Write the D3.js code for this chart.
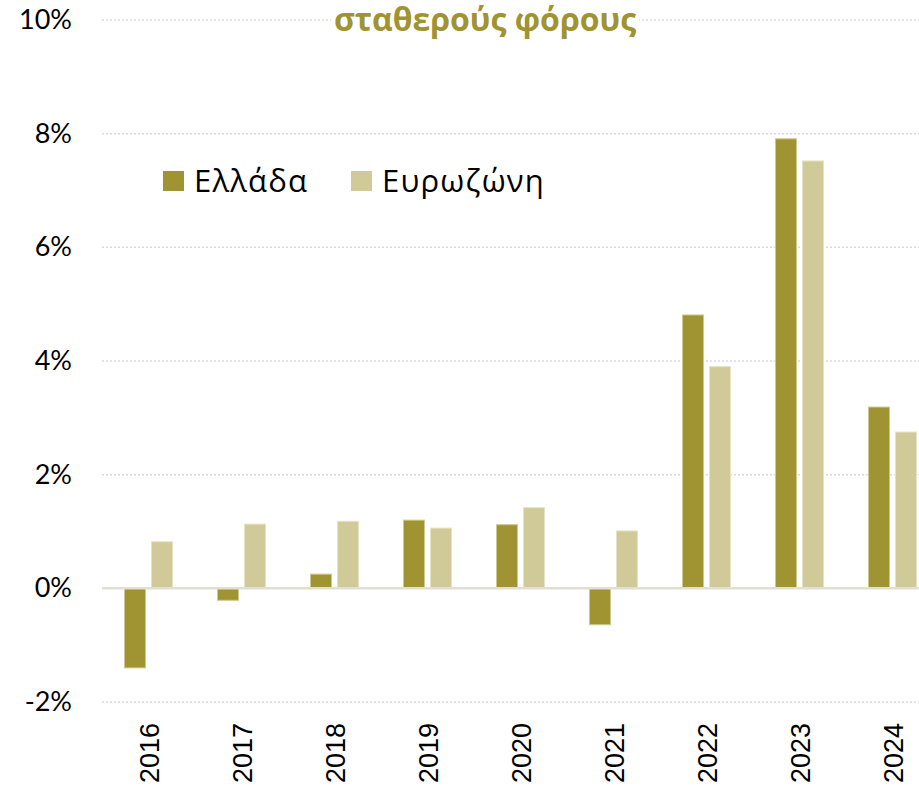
<!DOCTYPE html>
<html><head><meta charset="utf-8">
<script src="https://cdn.jsdelivr.net/npm/d3@7"></script>
<style>html,body{margin:0;padding:0;background:#fff;}</style>
</head><body>
<script>
const years = ["2016","2017","2018","2019","2020","2021","2022","2023","2024"];
const seriesNames = ["Ελλάδα","Ευρωζώνη"];
const greece = [-1.40, -0.21, 0.25, 1.20, 1.12, -0.64, 4.81, 7.91, 3.19];
const eurozone = [0.82, 1.13, 1.18, 1.06, 1.42, 1.01, 3.90, 7.52, 2.75];
const yTicks = [-2, 0, 2, 4, 6, 8, 10];
const colors = ["#A09332", "#CFCA98"];
const titleText = "σταθερούς φόρους";

const W = 919, H = 788;
const svg = d3.select("body").append("svg").attr("width", W).attr("height", H);

const x = d3.scaleBand().domain(years).range([102, 939]).paddingInner(0).paddingOuter(0);
const bw = x.bandwidth();
const xs = d3.scaleBand().domain(seriesNames).range([bw/2 - 24, bw/2 + 24]).paddingInner(0.222).paddingOuter(0);
const y = d3.scaleLinear().domain([-2, 10]).range([702, 20]);

// gridlines
const yAxis = d3.axisLeft(y).tickValues(yTicks).tickSize(0).tickFormat(d => d + "%");
const grid = svg.append("g");
grid.selectAll("line").data(yTicks.filter(d => d !== 0)).join("line")
  .attr("x1", 102).attr("x2", W)
  .attr("y1", d => y(d)).attr("y2", d => y(d))
  .attr("stroke", "#D9D9D9").attr("stroke-width", 1.5).attr("stroke-dasharray", "2,2");

// y axis labels
const ga = svg.append("g").attr("transform", "translate(72,0)").call(yAxis);
ga.select(".domain").remove();
ga.selectAll("text").attr("font-family", "Lato").attr("font-size", 27).attr("fill", "#000")
  .attr("x", 0).attr("dy", "0.32em");

// bars
const data = years.map((yr, i) => ({yr, vals: [greece[i], eurozone[i]]}));
const groups = svg.append("g").selectAll("g").data(data).join("g")
  .attr("transform", d => `translate(${x(d.yr)},0)`);
groups.selectAll("rect").data(d => d.vals.map((v, j) => ({v, s: seriesNames[j], j}))).join("rect")
  .attr("x", d => xs(d.s)).attr("width", xs.bandwidth())
  .attr("y", d => y(Math.max(0, d.v)))
  .attr("height", d => Math.abs(y(d.v) - y(0)))
  .attr("fill", d => colors[d.j])
  .attr("stroke", d => d.j === 0 ? "#CFC990" : "#E6E2C6").attr("stroke-width", 1);

// zero line
svg.append("line").attr("x1", 102).attr("x2", W).attr("y1", y(0)).attr("y2", y(0))
  .attr("stroke", "#E2DED4").attr("stroke-width", 2.5);

// x labels
const xAxis = d3.axisBottom(x).tickSize(0);
const gx = svg.append("g").attr("transform", "translate(0,723)").call(xAxis);
gx.select(".domain").remove();
gx.selectAll("text").attr("font-family", "Liberation Sans, Arial").attr("font-size", 27).attr("fill", "#000")
  .attr("transform", "rotate(-90)").attr("text-anchor", "end").attr("x", 0).attr("y", 1).attr("dy", "0.35em");

// title
const tg = svg.append("g");
const tt = tg.append("text").attr("x", 485).attr("y", 31).attr("text-anchor", "middle")
  .attr("font-family", "Open Sans").attr("font-weight", "bold").attr("font-size", 32)
  .attr("fill", "#A09332").text(titleText);
const bb = tt.node().getBBox();
tg.insert("rect", "text").attr("x", bb.x - 3).attr("y", Math.max(0, bb.y)).attr("width", bb.width + 6).attr("height", bb.height).attr("fill", "#fff");

// legend
const lg = svg.append("g");
const legX = [163, 351];
seriesNames.forEach((s, i) => {
  lg.append("rect").attr("x", legX[i]).attr("y", 171).attr("width", 21).attr("height", 20).attr("fill", colors[i]);
  lg.append("text").attr("x", legX[i] + 31).attr("y", 192).attr("font-family", "Open Sans").attr("font-size", 31)
    .attr("letter-spacing", 1.2).attr("fill", "#000").text(s);
});
</script>
</body></html>
